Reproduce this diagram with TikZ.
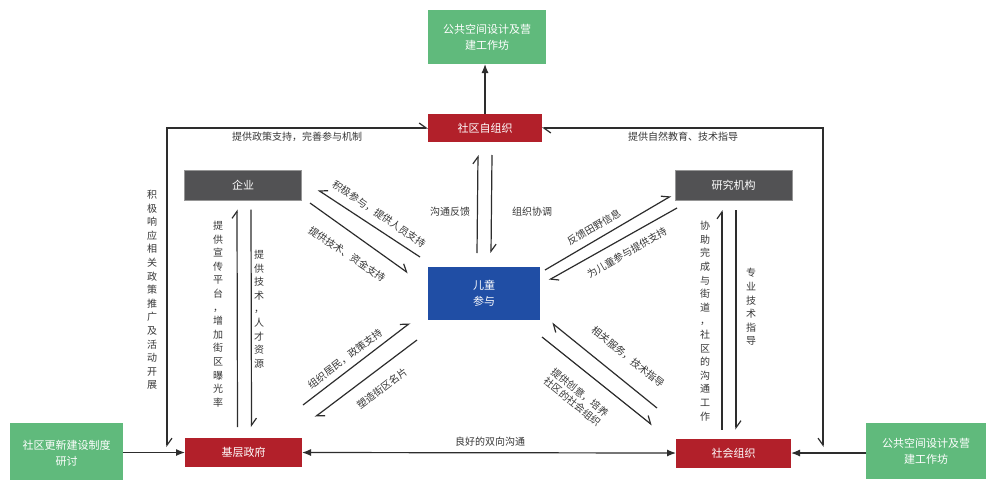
\documentclass[tikz,border=0pt]{standalone}
\usepackage{fontspec}
\newfontfamily\cjk{Noto Sans CJK SC}
\usetikzlibrary{arrows.meta,calc}
\definecolor{gbox}{RGB}{96,186,124}
\definecolor{rbox}{RGB}{178,32,42}
\definecolor{dbox}{RGB}{82,82,84}
\definecolor{dline}{RGB}{150,150,150}
\definecolor{bbox}{RGB}{32,78,165}
\definecolor{ln}{RGB}{45,45,45}
\definecolor{lab}{RGB}{55,55,55}
\begin{document}
\begin{tikzpicture}[x=1pt,y=-1pt,
  every node/.style={inner sep=0pt, outer sep=0pt},
  gbx/.style={fill=gbox, text=white, align=center, font=\cjk\fontsize{11}{16}\selectfont},
  rbx/.style={fill=rbox, text=white, font=\cjk\fontsize{11}{13}\selectfont},
  dbx/.style={fill=dbox, draw=dline, line width=0.6pt, text=white, font=\cjk\fontsize{11}{13}\selectfont},
  bbx/.style={fill=bbox, text=white, align=center, font=\cjk\fontsize{11}{16}\selectfont},
  lbl/.style={text=lab, font=\cjk\fontsize{10}{12}\selectfont},
  vlbl/.style={text=lab, align=center, font=\cjk\fontsize{10}{13.6}\selectfont},
  conn/.style={draw=ln, line width=1.2pt},
  harp/.style={conn, -{Straight Barb[harpoon, length=7pt, width=10pt]}},
  harpsw/.style={conn, -{Straight Barb[harpoon, swap, length=7pt, width=10pt]}},
  fillarr/.style={conn, -{Latex[length=9pt, width=7pt]}},
  fillboth/.style={conn, {Latex[length=9pt, width=7pt]}-{Latex[length=9pt, width=7pt]}}
]
\useasboundingbox[fill=white] (0,0) rectangle (987,479);

% boxes
\node[gbx, minimum width=118pt, minimum height=54pt] (topG) at (487,37) {公共空间设计及营\\建工作坊};
\node[rbx, minimum width=114pt, minimum height=28pt] (sz) at (485,128) {社区自组织};
\node[dbx, minimum width=117pt, minimum height=30pt] (qy) at (243,185.5) {企业};
\node[dbx, minimum width=117pt, minimum height=30pt] (yj) at (733.5,185) {研究机构};
\node[bbx, minimum width=112pt, minimum height=53pt] (et) at (484,293.5) {儿童\\参与};
\node[rbx, minimum width=117pt, minimum height=29pt] (jc) at (243.5,452.5) {基层政府};
\node[rbx, minimum width=115pt, minimum height=29pt] (sh) at (733.5,453) {社会组织};
\node[gbx, minimum width=113pt, minimum height=60pt] (leftG) at (66.5,453) {社区更新建设制度\\研讨};
\node[gbx, minimum width=120pt, minimum height=56pt] (rightG) at (926,451) {公共空间设计及营\\建工作坊};

% top arrow
\draw[fillarr] (sz.north) -- (sz.north |- topG.south);

% outer loops
\coordinate (lEnd) at (167,447);
\coordinate (rEnd) at (823,447);
\draw[conn, {Straight Barb[harpoon, length=7pt, width=10pt]}-{Straight Barb[harpoon, length=7pt, width=10pt]}] (lEnd) |- (sz.west);
\draw[conn, {Straight Barb[harpoon, length=7pt, width=10pt]}-{Straight Barb[harpoon, swap, length=7pt, width=10pt]}] (sz.east) -| (rEnd);
\node[lbl] (tl) at (297,137) {提供政策支持，完善参与机制};
\node[lbl] (tr) at (683,137) {提供自然教育、技术指导};
\node[vlbl] (vl) at (152,290) {积\\极\\响\\应\\相\\关\\政\\策\\推\\广\\及\\活\\动\\开\\展};

% side inputs
\draw[fillarr] (leftG.east |- jc.west) -- (jc.west);
\draw[fillarr] (rightG.west |- sh.east) -- (sh.east);
\draw[fillboth] (jc.east) -- (sh.west);
\node[lbl] (mid) at (490,442) {良好的双向沟通};

% enterprise <-> government
\draw[harp] ($(jc.north)+(-6,-11)$) -- ($(qy.south)+(-6,9)$);
\draw[harp] ($(qy.south)+(8,9)$) -- ($(jc.north)+(8,-11)$);
\node[vlbl] (v2) at (218,314) {提\\供\\宣\\传\\平\\台\\，\\增\\加\\街\\区\\曝\\光\\率};
\node[vlbl] (v3) at (259,309) {提\\供\\技\\术\\，\\人\\才\\资\\源};

% research <-> social org
\draw[harp] ($(sh.north)+(-11.5,-9)$) -- ($(yj.south)+(-11.5,10)$);
\draw[harp] ($(yj.south)+(2.5,10)$) -- ($(sh.north)+(2.5,-9)$);
\node[vlbl] (v4) at (705,321) {协\\助\\完\\成\\与\\街\\道\\，\\社\\区\\的\\沟\\通\\工\\作};
\node[vlbl] (v5) at (751,307) {专\\业\\技\\术\\指\\导};

% community self-org <-> children
\draw[harp] ($(et.north)+(-7,-14)$) -- ($(sz.south)+(-7,13)$);
\draw[harp] ($(sz.south)+(7,13)$) -- ($(et.north)+(7,-14)$);
\node[lbl] (c1) at (450,212) {沟通反馈};
\node[lbl] (c2) at (532,212) {组织协调};

% diagonals
\coordinate (A1) at (420,257); \coordinate (A2) at (318,190);
\coordinate (B1) at (310,203); \coordinate (B2) at (408,273);
\coordinate (C1) at (545,270); \coordinate (C2) at (671,196);
\coordinate (D1) at (677,208); \coordinate (D2) at (549,280);
\coordinate (E1) at (303,405); \coordinate (E2) at (410,323);
\coordinate (F1) at (417,340); \coordinate (F2) at (315,417);
\coordinate (G1) at (657,408); \coordinate (G2) at (552,323);
\coordinate (H1) at (542,337); \coordinate (H2) at (652,425);
\draw[harpsw] (A1) -- (A2);
\draw[harp] (B1) -- (B2);
\draw[harp] (C1) -- (C2);
\draw[harp] (D1) -- (D2);
\draw[harp] (E1) -- (E2);
\draw[harp] (F1) -- (F2);
\draw[harp] (G1) -- (G2);
\draw[harp] (H1) -- (H2);
\node[lbl, rotate=-34] (la) at (379,214) {积极参与，提供人员支持};
\node[lbl, rotate=-34] (lb) at (347,254) {提供技术、资金支持};
\node[lbl, rotate=30] (lc) at (594,227) {反馈田野信息};
\node[lbl, rotate=30] (ld) at (627,253) {为儿童参与提供支持};
\node[lbl, rotate=37] (le) at (345,359) {组织居民，政策支持};
\node[lbl, rotate=37] (lf) at (382,388) {塑造街区名片};
\node[lbl, rotate=-39] (lg) at (628,357) {相关服务，技术指导};
\node[lbl, rotate=-39, align=center, font=\cjk\fontsize{10}{12}\selectfont] (lh) at (576,397) {提供创意，培养\\社区的社会组织};
\end{tikzpicture}
\end{document}
